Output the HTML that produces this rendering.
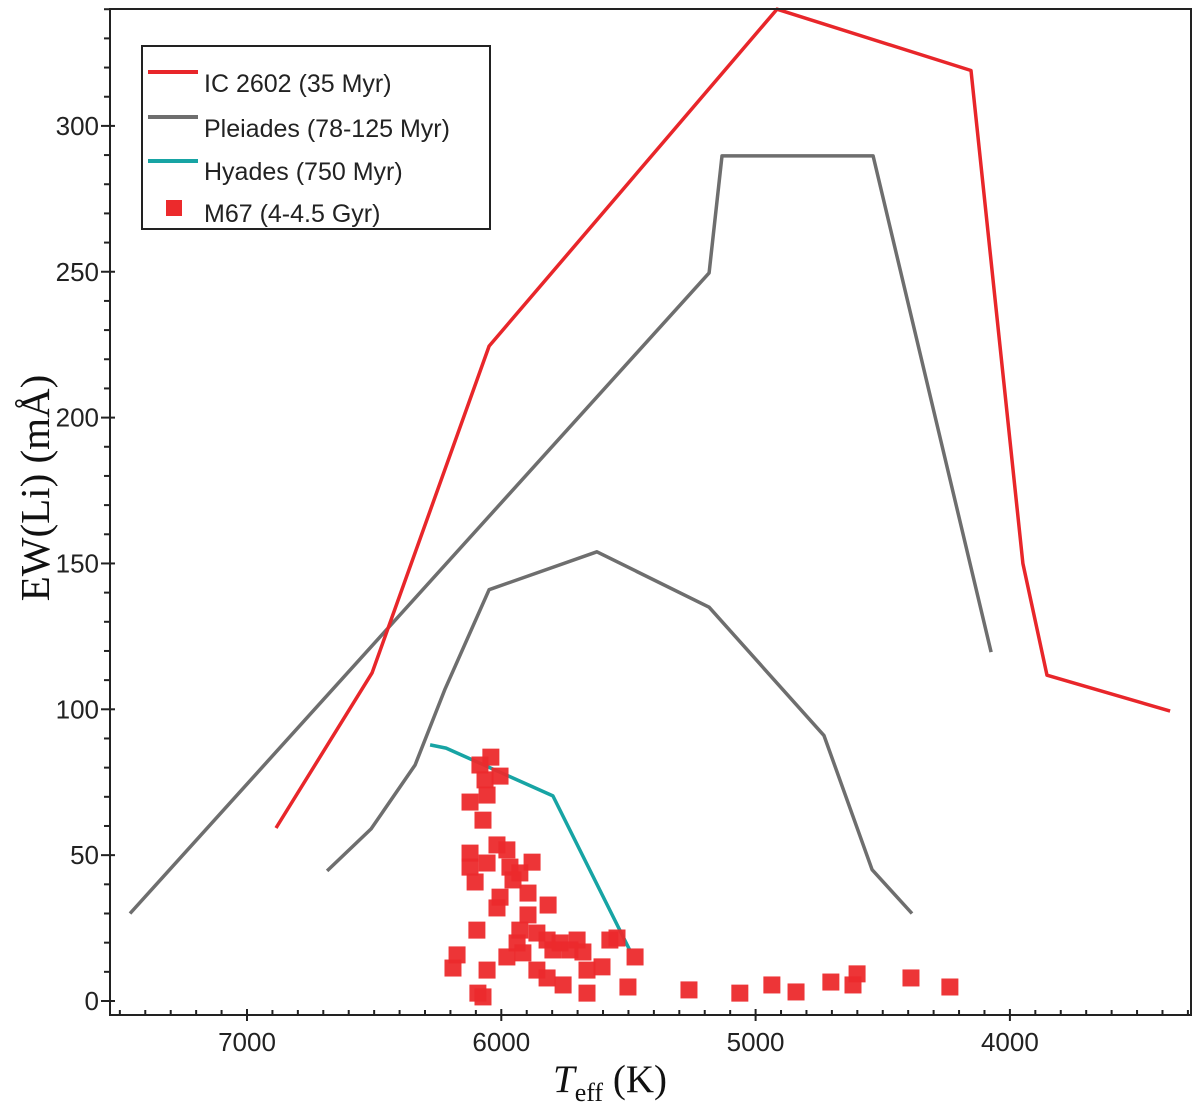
<!DOCTYPE html>
<html><head><meta charset="utf-8"><style>
html,body{margin:0;padding:0;background:#fff;}
svg{display:block;}
text{font-family:"Liberation Sans",Arial,sans-serif;fill:#222;}
</style></head><body>
<svg id="chart" width="1200" height="1110" viewBox="0 0 1200 1110" xmlns="http://www.w3.org/2000/svg">
<g id="marks"></g>
<g id="axes"></g>
<text transform="translate(49,488) rotate(-90)" text-anchor="middle" style="font-family:'Liberation Serif',serif;font-size:41px;fill:#111">EW(Li) (mÅ)</text>
<text x="553" y="1092" style="font-family:'Liberation Serif',serif;font-size:39px;fill:#111"><tspan font-style="italic">T</tspan><tspan font-size="26" dy="9">eff</tspan><tspan dy="-9"> (K)</tspan></text>
<g>
<rect x="142" y="46" width="348" height="183" fill="#fff" stroke="#222" stroke-width="2"/>
<line x1="148" y1="72" x2="198" y2="72" stroke="#e8262a" stroke-width="4"/>
<text x="204" y="92" font-size="25">IC 2602 (35 Myr)</text>
<line x1="148" y1="117" x2="198" y2="117" stroke="#6e6e6e" stroke-width="4"/>
<text x="204" y="137" font-size="25">Pleiades (78-125 Myr)</text>
<line x1="148" y1="161" x2="198" y2="161" stroke="#17a4a4" stroke-width="4"/>
<text x="204" y="180" font-size="25">Hyades (750 Myr)</text>
<rect x="166" y="200" width="16" height="16" fill="#ec2a2c"/>
<text x="204" y="222" font-size="25">M67 (4-4.5 Gyr)</text>
</g>
</svg>
<script>
const ic2602T = [6886, 6508, 6048, 4916, 4153, 3949, 3854, 3370];
const ic2602V = [59.3, 112.5, 224.5, 340, 319, 150, 111.7, 99.4];
const pleiadesUpT = [7460, 5183, 5132, 4538, 4074];
const pleiadesUpV = [30, 249.6, 289.7, 289.7, 119.6];
const pleiadesLowT = [6685, 6512, 6339, 6221, 6048, 5624, 5183, 4731, 4542, 4385];
const pleiadesLowV = [44.6, 59, 80.9, 107, 141, 154, 135, 91, 45, 30];
const hyadesT = [6280, 6217, 5797, 5495];
const hyadesV = [87.8, 86.7, 70.3, 17.5];
const m67T = [6041,6084,6005,6064,6056,6123,6072,6123,6017,5978,6123,6056,5966,5879,5927,6103,5954,6005,5895,6017,5816,5895,6096,5927,5860,5938,5820,5769,5702,5573,5545,5978,5915,5797,5730,5679,6174,5474,6190,6056,5860,5820,5663,5604,5757,5502,5663,6092,6072,5262,5062,4936,4841,4704,4601,4617,4389,4236];
const m67V = [83.6,80.9,77.1,75.8,70.6,68.2,62.0,50.7,53.5,51.8,45.9,47.3,45.9,47.6,43.9,40.8,41.5,35.6,37.0,31.9,32.9,29.5,24.3,24.3,23.3,19.9,20.9,19.9,20.9,20.9,21.6,15.1,16.5,17.5,17.5,16.8,15.8,15.1,11.3,10.6,10.6,7.9,10.6,11.7,5.5,4.8,2.7,2.7,1.4,3.8,2.7,5.5,3.1,6.5,9.3,5.5,7.9,4.8];
const yTickLabels = [0, 50, 100, 150, 200, 250, 300];
const xTickLabels = [7000, 6000, 5000, 4000];

const NS = 'http://www.w3.org/2000/svg';
const L = 110, R = 1191, T = 9, B = 1015;
function xs(t){ return 247 + (7000 - t) * 0.2543; }
function ys(v){ return 1001 - v * 2.917; }
function mk(tag, attrs, parent){ const e = document.createElementNS(NS, tag); for (const k in attrs) e.setAttribute(k, attrs[k]); parent.appendChild(e); return e; }
const marks = document.getElementById('marks');
const axes = document.getElementById('axes');

function line(ts, vs, color, name){
  const pts = ts.map((t,i)=> xs(t).toFixed(1)+','+ys(vs[i]).toFixed(1)).join(' ');
  const p = mk('polyline', {points: pts, fill: 'none', stroke: color, 'stroke-width': 3.5, 'stroke-linejoin': 'round'}, marks);
  
  
}
line(pleiadesUpT, pleiadesUpV, '#6e6e6e', 'pleiades-upper-line');
line(pleiadesLowT, pleiadesLowV, '#6e6e6e', 'pleiades-lower-line');
line(ic2602T, ic2602V, '#e8262a', 'ic2602-line');
line(hyadesT, hyadesV, '#17a4a4', 'hyades-line');
m67T.forEach((t,i)=>{
  const r = mk('rect', {x: xs(t)-8.5, y: ys(m67V[i])-8.5, width: 17, height: 17, fill: '#ec2a2c', 'fill-opacity': 0.95}, marks);
  
  
});

const frame = mk('rect', {x: L, y: T, width: R-L, height: B-T, fill: 'none', stroke: '#222', 'stroke-width': 2}, axes);


for (let v = 0; v <= 340; v += 10){
  const major = v % 50 === 0;
  const tk = mk('line', {x1: major ? L-9 : L-6, x2: major ? L+5 : L, y1: ys(v), y2: ys(v), stroke: '#222', 'stroke-width': 2}, axes);
  
  
}
yTickLabels.forEach(v=>{
  const tx = mk('text', {x: 99, y: ys(v)+9, 'text-anchor': 'end', 'font-size': 26}, axes);
  tx.textContent = v;
  
  
});
for (let t = 7500; t >= 3300; t -= 100){
  const major = t % 1000 === 0;
  const tk = mk('line', {x1: xs(t), x2: xs(t), y1: major ? B-6 : B-5, y2: major ? B+6 : B, stroke: '#222', 'stroke-width': 2}, axes);
  
  
}
xTickLabels.forEach(t=>{
  const tx = mk('text', {x: xs(t), y: 1051, 'text-anchor': 'middle', 'font-size': 26}, axes);
  tx.textContent = t;
  
  
});
</script>
</body></html>
